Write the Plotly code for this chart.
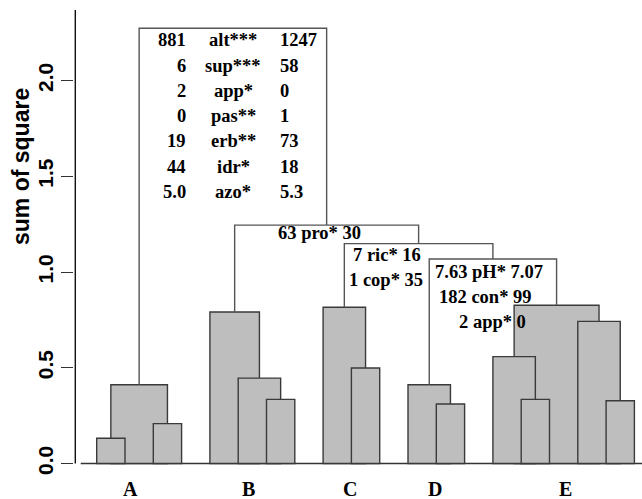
import plotly.graph_objects as go

# ---------------- data ----------------
n_leaves = 20
# hclust-style merge table: negative = leaf index, positive = earlier merge (1-based)
merge_left = [-1, -3, 1, -7, -6, -5, -10, -9, -13, -12, -16, -15, -19, -18, 12, 10, 8, 6, 3]
merge_right = [-2, -4, 2, -8, 4, 5, -11, 7, -14, 9, -17, 11, -20, 13, 14, 15, 16, 17, 18]
merge_height = [0.132, 0.208, 0.411, 0.335, 0.446, 0.791, 0.499, 0.816, 0.311, 0.411,
                0.335, 0.558, 0.328, 0.742, 0.826, 1.068, 1.148, 1.245, 2.273]
n_filled = 15  # first 15 merges are drawn as shaded blocks

group_names = ["A", "B", "C", "D", "E"]
group_label_x = [2.18, 6.35, 9.95, 12.95, 17.55]

y_tick_vals = [0, 0.5, 1.0, 1.5, 2.0]
y_tick_text = ["0.0", "0.5", "1.0", "1.5", "2.0"]
y_title = "sum of square"

# top split (alt) : left value / variable / right value
top_left = ["881", "6", "2", "0", "19", "44", "5.0"]
top_vars = ["alt***", "sup***", "app*", "pas**", "erb**", "idr*", "azo*"]
top_right = ["1247", "58", "0", "1", "73", "18", "5.3"]

split_pro = ["63 pro* 30"]
split_ric = ["7 ric* 16", "1 cop* 35"]
split_ph = ["7.63 pH* 7.07", "182 con* 99", "2 app* 0"]

# ---------------- geometry helpers ----------------
W, H = 642, 499
ML, MR, MT, MB = 74, 0, 4, 28
PX_LEAF1, PX_PER_X = 96.7, 28.3
PX_Y0, PX_PER_Y = 463.5, 191.5
x_lo = 1 + (ML - PX_LEAF1) / PX_PER_X
x_hi = x_lo + (W - ML - MR) / PX_PER_X
y_hi = (PX_Y0 - MT) / PX_PER_Y
y_lo = (PX_Y0 - (H - MB)) / PX_PER_Y
PLOT_H = H - MT - MB

pos = {}


def child_pos(c):
    return float(-c) if c < 0 else pos[c]


def child_h(c):
    return 0.0 if c < 0 else merge_height[c - 1]


for i in range(len(merge_left)):
    pos[i + 1] = (child_pos(merge_left[i]) + child_pos(merge_right[i])) / 2

shapes = []
FILL = "#bebebe"
EDGE = "#3a3a3a"
LINE = "#555555"

# baseline
shapes.append(dict(type="line", xref="x", yref="y", x0=0.435, x1=n_leaves + 0.565, y0=0, y1=0,
                   line=dict(color="#333333", width=1.4), layer="below"))

# shaded blocks: parents first, then children on top
for i in reversed(range(n_filled)):
    xl = child_pos(merge_left[i])
    xr = child_pos(merge_right[i])
    shapes.append(dict(type="rect", xref="x", yref="y", x0=xl, x1=xr, y0=0, y1=merge_height[i],
                       fillcolor=FILL, line=dict(color=EDGE, width=1.4), layer="above"))

# upper splits as open brackets
for i in range(n_filled, len(merge_left)):
    xl = child_pos(merge_left[i])
    xr = child_pos(merge_right[i])
    h = merge_height[i]
    path = (f"M {xl},{child_h(merge_left[i])} L {xl},{h} L {xr},{h} "
            f"L {xr},{child_h(merge_right[i])}")
    shapes.append(dict(type="path", xref="x", yref="y", path=path,
                       line=dict(color=LINE, width=1.4), layer="above"))

# y axis line
ax_x = 1 + (75.3 - PX_LEAF1) / PX_PER_X
shapes.append(dict(type="line", xref="x", yref="y", x0=ax_x, x1=ax_x, y0=0, y1=2.368,
                   line=dict(color="#111111", width=1.4)))

ann = []
SERIF = "Liberation Serif, Times New Roman, serif"
SANS = "Liberation Sans, Arial, sans-serif"
tfont = dict(family=SERIF, size=18.5, color="black", weight="bold")

# top split text in three columns
top_c = pos[19]
row0 = merge_height[18] - 0.063
row_step = 0.1321
for k in range(len(top_vars)):
    yk = row0 - k * row_step
    ann.append(dict(x=top_c - 1.60, y=yk, text=top_left[k], xanchor="right", yanchor="middle",
                    showarrow=False, font=tfont))
    ann.append(dict(x=top_c + 0.02, y=yk, text=top_vars[k], xanchor="center", yanchor="middle",
                    showarrow=False, font=tfont))
    ann.append(dict(x=top_c + 1.60, y=yk, text=top_right[k], xanchor="left", yanchor="middle",
                    showarrow=False, font=tfont))

# other split texts
split_text_x = {18: [8.873], 17: [11.258, 11.216], 16: [14.869, 14.749, 14.986]}
split_text_y = {18: [1.202], 17: [1.089, 0.958], 16: [1.0016, 0.871, 0.740]}
for node, rows in [(18, split_pro), (17, split_ric), (16, split_ph)]:
    for k, t in enumerate(rows):
        ann.append(dict(x=split_text_x[node][k], y=split_text_y[node][k], text=t,
                        xanchor="center", yanchor="middle", showarrow=False, font=tfont))

# group labels (below the plot area, paper y)
lab_y = ((H - MB) - 488.5) / PLOT_H
for gx, gn in zip(group_label_x, group_names):
    ann.append(dict(x=gx, xref="x", yref="paper", y=lab_y, text=gn, xanchor="center",
                    yanchor="middle", showarrow=False,
                    font=dict(family=SERIF, size=20, color="black", weight="bold")))

# y title
ann.append(dict(xref="paper", yref="paper", x=(21 - ML) / (W - ML - MR),
                y=((H - MB) - 167) / PLOT_H,
                text=y_title, textangle=-90, xanchor="center", yanchor="middle", showarrow=False,
                font=dict(family=SANS, size=23, color="black", weight="bold")))

fig = go.Figure()
fig.add_trace(go.Scatter(x=[None], y=[None], showlegend=False, hoverinfo="skip"))
fig.update_layout(
    width=W, height=H,
    margin=dict(l=ML, r=MR, t=MT, b=MB, pad=0),
    paper_bgcolor="white", plot_bgcolor="white",
    showlegend=False,
    shapes=shapes, annotations=ann,
    xaxis=dict(range=[x_lo, x_hi], showgrid=False, zeroline=False, showline=False,
               showticklabels=False, ticks="", automargin=False, fixedrange=True),
    yaxis=dict(range=[y_lo, y_hi], showgrid=False, zeroline=False, showline=False,
               tickvals=y_tick_vals, ticktext=y_tick_text, ticks="outside", ticklen=12,
               tickwidth=1.4, tickcolor="#333333", tickangle=-90,
               tickfont=dict(family=SANS, size=21, color="black", weight="bold"),
               automargin=False, fixedrange=True),
)
fig.write_html(
    "out.html",
    config={"displayModeBar": False},
    post_script="document.body.style.margin='0';document.body.style.padding='0';"
                "document.body.style.overflow='hidden';",
)
